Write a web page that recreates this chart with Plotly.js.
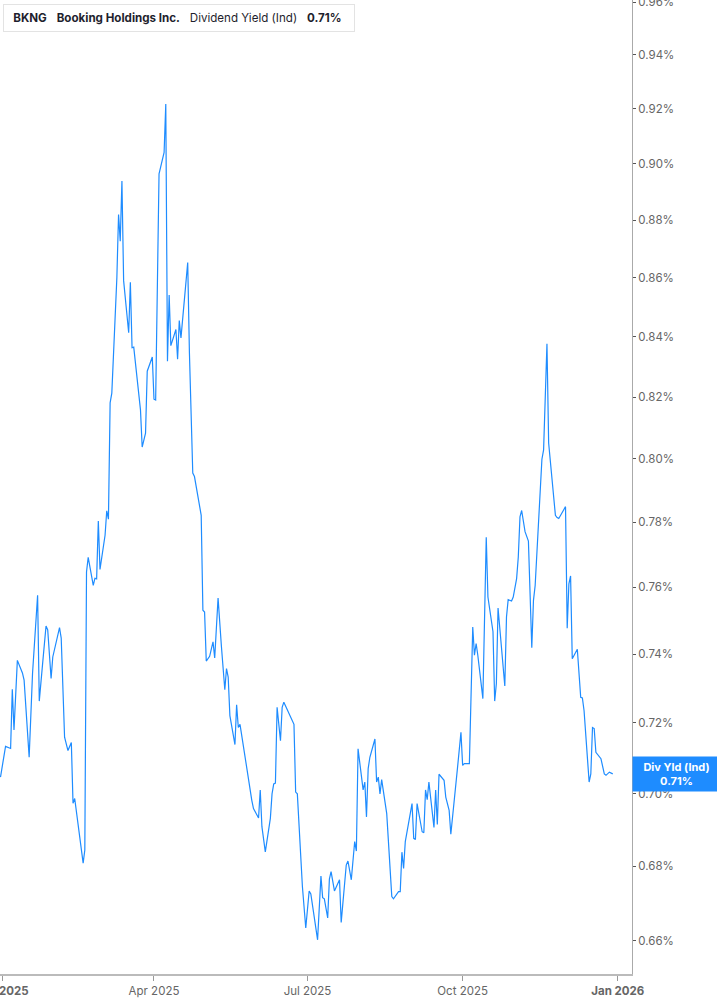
<!DOCTYPE html>
<html>
<head>
<meta charset="utf-8">
<script src="https://cdn.plot.ly/plotly-3.0.1.min.js"></script>
<style>
  html, body { margin: 0; padding: 0; background: #fff; }
  #chart { width: 717px; height: 1005px; }
</style>
</head>
<body>
<div id="chart"></div>
<script>
// BKNG dividend yield (indicated), %
const dates = [
  "2024-12-31","2025-01-03","2025-01-06","2025-01-07","2025-01-08","2025-01-10","2025-01-13","2025-01-14","2025-01-17","2025-01-19",
  "2025-01-22","2025-01-23","2025-01-25","2025-01-27","2025-01-28","2025-01-30","2025-01-31","2025-02-04","2025-02-05","2025-02-07",
  "2025-02-09","2025-02-11","2025-02-12","2025-02-13","2025-02-18","2025-02-19","2025-02-20","2025-02-21","2025-02-24","2025-02-25",
  "2025-02-26","2025-02-27","2025-02-28","2025-03-03","2025-03-04","2025-03-05","2025-03-06","2025-03-07","2025-03-10","2025-03-11",
  "2025-03-12","2025-03-13","2025-03-14","2025-03-17","2025-03-18","2025-03-19","2025-03-20","2025-03-24","2025-03-25","2025-03-27",
  "2025-03-28","2025-03-31","2025-04-01","2025-04-02","2025-04-04","2025-04-07","2025-04-08","2025-04-09","2025-04-10","2025-04-11",
  "2025-04-14","2025-04-15","2025-04-16","2025-04-17","2025-04-21","2025-04-22","2025-04-24","2025-04-25","2025-04-29","2025-04-30",
  "2025-05-01","2025-05-02","2025-05-04","2025-05-06","2025-05-07","2025-05-09","2025-05-11","2025-05-13","2025-05-14","2025-05-15",
  "2025-05-16","2025-05-19","2025-05-20","2025-05-21","2025-05-22","2025-05-27","2025-05-29","2025-05-30","2025-06-02","2025-06-03",
  "2025-06-04","2025-06-06","2025-06-09","2025-06-10","2025-06-11","2025-06-12","2025-06-13","2025-06-15","2025-06-16","2025-06-17",
  "2025-06-23","2025-06-24","2025-06-25","2025-06-28","2025-06-30","2025-07-02","2025-07-03","2025-07-07","2025-07-09","2025-07-10",
  "2025-07-11","2025-07-13","2025-07-14","2025-07-15","2025-07-17","2025-07-20","2025-07-21","2025-07-24","2025-07-25","2025-07-27",
  "2025-07-29","2025-07-30","2025-07-31","2025-08-03","2025-08-04","2025-08-05","2025-08-06","2025-08-07","2025-08-10","2025-08-11",
  "2025-08-12","2025-08-13","2025-08-14","2025-08-17","2025-08-20","2025-08-21","2025-08-24","2025-08-25","2025-08-26","2025-08-27",
  "2025-08-28","2025-09-01","2025-09-02","2025-09-03","2025-09-04","2025-09-07","2025-09-08","2025-09-09","2025-09-10","2025-09-11",
  "2025-09-14","2025-09-15","2025-09-16","2025-09-17","2025-09-20","2025-09-21","2025-09-23","2025-09-24","2025-09-27","2025-09-28",
  "2025-09-30","2025-10-01","2025-10-02","2025-10-05","2025-10-07","2025-10-08","2025-10-09","2025-10-10","2025-10-13","2025-10-15",
  "2025-10-16","2025-10-19","2025-10-20","2025-10-21","2025-10-22","2025-10-26","2025-10-27","2025-10-28","2025-10-30","2025-10-31",
  "2025-11-02","2025-11-03","2025-11-04","2025-11-05","2025-11-07","2025-11-09","2025-11-11","2025-11-12","2025-11-13","2025-11-16",
  "2025-11-17","2025-11-18","2025-11-20","2025-11-21","2025-11-24","2025-11-25","2025-11-26","2025-11-27","2025-12-01","2025-12-02",
  "2025-12-03","2025-12-04","2025-12-05","2025-12-08","2025-12-10","2025-12-11","2025-12-12","2025-12-15","2025-12-16","2025-12-17",
  "2025-12-18","2025-12-19","2025-12-22","2025-12-24","2025-12-25","2025-12-27","2025-12-29"
];
const yieldPct = [
  0.7046,0.7133,0.7127,0.7297,0.7180,0.7382,0.7345,0.7324,0.7102,0.7344,
  0.7576,0.7263,0.7374,0.7484,0.7472,0.7329,0.7392,0.7479,0.7448,0.7159,
  0.7121,0.7144,0.6973,0.6986,0.6808,0.6844,0.7647,0.7692,0.7606,0.7628,
  0.7626,0.7804,0.7655,0.7760,0.7836,0.7810,0.8181,0.8213,0.8601,0.8820,
  0.8726,0.8938,0.8590,0.8413,0.8584,0.8363,0.8365,0.8158,0.8038,0.8083,
  0.8285,0.8332,0.8193,0.8190,0.8964,0.9041,0.9217,0.8318,0.8541,0.8370,
  0.8424,0.8325,0.8454,0.8396,0.8652,0.8349,0.7955,0.7944,0.7822,0.7531,
  0.7526,0.7380,0.7394,0.7437,0.7389,0.7568,0.7422,0.7296,0.7358,0.7333,
  0.7221,0.7138,0.7252,0.7187,0.7196,0.7037,0.6981,0.6958,0.6932,0.7010,
  0.6908,0.6839,0.6931,0.6999,0.7027,0.7029,0.7245,0.7149,0.7245,0.7260,
  0.7196,0.7004,0.6999,0.6745,0.6634,0.6733,0.6725,0.6603,0.6773,0.6715,
  0.6712,0.6661,0.6765,0.6785,0.6733,0.6763,0.6649,0.6803,0.6814,0.6763,
  0.6867,0.6841,0.7126,0.7010,0.7032,0.6935,0.7070,0.7102,0.7154,0.7032,
  0.7046,0.6999,0.7039,0.6944,0.6718,0.6712,0.6731,0.6731,0.6838,0.6794,
  0.6867,0.6972,0.6876,0.6873,0.6972,0.6894,0.6891,0.7010,0.6983,0.7032,
  0.6906,0.7010,0.6914,0.7054,0.7037,0.6990,0.6953,0.6887,0.7018,0.7074,
  0.7173,0.7079,0.7084,0.7084,0.7481,0.7397,0.7432,0.7397,0.7270,0.7754,
  0.7571,0.7467,0.7263,0.7314,0.7538,0.7307,0.7511,0.7563,0.7559,0.7571,
  0.7627,0.7693,0.7817,0.7837,0.7771,0.7742,0.7419,0.7561,0.7606,0.7904,
  0.7999,0.8029,0.8376,0.8051,0.7880,0.7822,0.7815,0.7812,0.7849,0.7477,
  0.7611,0.7635,0.7387,0.7415,0.7274,0.7272,0.7235,0.7032,0.7055,0.7187,
  0.7184,0.7116,0.7098,0.7055,0.7051,0.7060,0.7055
];

const yTicks = [0.66, 0.68, 0.70, 0.72, 0.74, 0.76, 0.78, 0.80, 0.82, 0.84, 0.86, 0.88, 0.90, 0.92, 0.94, 0.96];
const xTicks = ["2025-01-01", "2025-04-01", "2025-07-01", "2025-10-01", "2026-01-01"];
const xTickText = ["<b>Jan 2025</b>", "Apr 2025", "Jul 2025", "Oct 2025", "<b>Jan 2026</b>"];

const lastVal = yieldPct[yieldPct.length - 1];
const blue = "#1e8cff";
const font = "Inter, 'Noto Sans', sans-serif";
const sp = "&nbsp;&nbsp;&nbsp;";

const trace = {
  x: dates,
  y: yieldPct,
  type: "scatter",
  mode: "lines",
  line: { color: blue, width: 1.2 },
  hoverinfo: "skip"
};

const layout = {
  width: 717,
  height: 1005,
  margin: { l: 0, r: 85, t: 0, b: 31 },
  paper_bgcolor: "#fff",
  plot_bgcolor: "#fff",
  showlegend: false,
  font: { family: font, size: 11, color: "#666" },
  xaxis: {
    type: "date",
    range: ["2024-12-30 17:00", "2026-01-09 10:00"],
    tickvals: xTicks,
    ticktext: xTickText,
    ticks: "outside",
    ticklen: 5,
    tickcolor: "#999",
    tickfont: { family: font, size: 11.5, color: "#666" },
    ticklabeloverflow: "allow",
    showgrid: false,
    zeroline: false,
    showline: true,
    linecolor: "#bbb",
    linewidth: 2,
    fixedrange: true
  },
  yaxis: {
    type: "log",
    side: "right",
    range: [Math.log10(0.65135), Math.log10(0.9608)],
    tickvals: yTicks,
    ticktext: yTicks.map(v => v.toFixed(2) + "%"),
    ticks: "outside",
    ticklen: 3,
    tickcolor: "#555",
    tickfont: { family: font, size: 11.5, color: "#666" },
    ticklabeloverflow: "allow",
    showgrid: false,
    zeroline: false,
    showline: true,
    linecolor: "#aaa",
    linewidth: 1,
    fixedrange: true
  },
  shapes: [
    {
      type: "rect", xref: "paper", yref: "paper",
      x0: 4 / 632, x1: 7 / 632, y0: 1 - 30 / 974, y1: 1 - 5 / 974,
      fillcolor: blue, line: { width: 0 }
    }
  ],
  annotations: [
    {
      xref: "paper", yref: "paper",
      x: 3 / 632, y: 1 - 4 / 974,
      xanchor: "left", yanchor: "top",
      text: "&nbsp;<b>BKNG</b>" + sp + "<b>Booking Holdings Inc.</b>" + sp + "Dividend Yield (Ind)" + sp + "<b>" + lastVal.toFixed(2) + "%</b>&nbsp;&nbsp;",
      showarrow: false,
      align: "left",
      font: { family: font, size: 11.6, color: "#1f1f2e" },
      bgcolor: "#fff",
      bordercolor: "#e3e3e3",
      borderwidth: 1,
      borderpad: 6
    },
    {
      xref: "paper", yref: "y",
      x: 1, y: Math.log10(lastVal),
      xanchor: "left", yanchor: "middle",
      text: "<b>Div Yld (Ind)</b><br><b>" + lastVal.toFixed(2) + "%</b>",
      showarrow: false,
      align: "center",
      width: 81,
      font: { family: font, size: 11, color: "#fff" },
      bgcolor: blue,
      borderpad: 3
    }
  ]
};

Plotly.newPlot("chart", [trace], layout, { displayModeBar: false, staticPlot: true });
</script>
</body>
</html>
